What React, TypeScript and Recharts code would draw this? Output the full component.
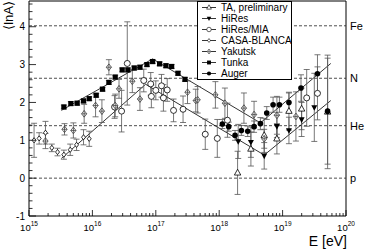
import React from 'react';
import { ScatterChart, Scatter, XAxis, YAxis, ErrorBar, ReferenceLine, ReferenceArea, Legend } from 'recharts';

// energies are log10(E / eV), y values are <lnA>, errors symmetric
const taLogE = [18.29, 18.5, 18.71, 18.91, 19.1, 19.3, 19.71];
const taLnA = [0.14, 0.77, 1.13, 1.04, 1.77, 1.83, 1.75];
const taErr = [0.57, 0.45, 0.45, 0.4, 0.5, 0.55, 1.5];

const hiresLogE = [18.3, 18.5, 18.71, 18.91, 19.1, 19.3, 19.5];
const hiresLnA = [0.97, 0.95, 0.59, 1.37, 1.26, 1.55, 1.87];
const hiresErr = [0.45, 0.4, 0.35, 0.3, 0.35, 0.45, 0.9];

const miaLogE = [16.35, 16.46, 16.55, 16.81, 16.92, 16.93, 17.0, 17.09, 17.12, 17.18, 17.28, 17.43, 17.78, 17.97, 18.13, 19.38, 19.55];
const miaLnA = [1.88, 1.77, 3.03, 2.58, 2.49, 2.16, 2.32, 2.44, 2.12, 2.33, 1.79, 1.82, 1.16, 1.05, 1.53, 2.12, 2.24];
const miaErr = [0.3, 0.55, 1.1, 0.3, 0.3, 0.3, 0.25, 0.3, 0.35, 0.3, 0.3, 0.35, 0.4, 0.5, 0.45, 0.75, 0.7];

const casaLogE = [15.08, 15.16, 15.26, 15.36, 15.45, 15.55, 15.65, 15.75, 15.86, 15.95];
const casaLnA = [1.0, 1.05, 1.2, 0.8, 0.69, 0.62, 0.75, 0.88, 1.08, 1.04];
const casaErr = [0.45, 0.15, 0.3, 0.1, 0.1, 0.12, 0.15, 0.15, 0.2, 0.2];

const yakLogE = [15.26, 15.56, 15.7, 15.87, 16.05, 16.15, 16.26, 16.36, 16.42, 16.63, 16.75, 17.5, 17.63, 17.66, 17.94, 18.09, 18.39, 18.55, 18.71, 18.91, 19.21];
const yakLnA = [0.98, 1.29, 1.26, 1.7, 1.92, 1.77, 2.93, 1.92, 2.36, 2.56, 2.09, 2.27, 2.05, 2.07, 2.2, 1.98, 1.85, 1.68, 1.04, 1.66, 1.63];
const yakErr = [0.2, 0.15, 0.2, 0.25, 0.3, 0.3, 0.2, 0.3, 0.25, 0.3, 0.3, 0.3, 0.3, 0.35, 0.35, 0.4, 0.4, 0.35, 0.25, 0.5, 0.65];

const tunkaLogE = [15.55, 15.66, 15.76, 15.86, 15.95, 16.06, 16.16, 16.26, 16.36, 16.47, 16.56, 16.66, 16.75, 16.86, 16.95, 17.06, 17.16, 17.25, 17.35, 17.46];
const tunkaLnA = [1.88, 1.97, 1.98, 2.04, 2.1, 2.19, 2.35, 2.53, 2.67, 2.86, 2.86, 2.91, 2.93, 3.0, 3.08, 3.02, 2.97, 2.95, 2.77, 2.61];
const tunkaErr = [0.05, 0.05, 0.05, 0.05, 0.05, 0.05, 0.05, 0.05, 0.05, 0.05, 0.05, 0.05, 0.05, 0.05, 0.05, 0.05, 0.05, 0.05, 0.05, 0.05];

const augerLogE = [18.05, 18.15, 18.25, 18.35, 18.45, 18.55, 18.65, 18.75, 18.85, 18.95, 19.1, 19.29, 19.55, 19.71];
const augerLnA = [1.43, 1.36, 1.13, 1.26, 1.24, 1.36, 1.44, 1.72, 1.94, 1.94, 2.0, 2.38, 2.76, 1.77];
const augerErr = [0.12, 0.12, 0.13, 0.13, 0.14, 0.15, 0.16, 0.17, 0.2, 0.2, 0.25, 0.35, 0.5, 1.4];

const upperFitLogE = [15.51, 16.95, 18.65, 19.76];
const upperFitLnA = [1.79, 3.15, 1.46, 3.03];
const lowerFitLogE = [15.51, 16.84, 18.71, 19.76];
const lowerFitLnA = [0.52, 2.48, 0.61, 2.05];

const massNames = ['p', 'He', 'N', 'Fe'];
const massLnA = [0, 1.386, 2.639, 4.025];

const decades = [15, 16, 17, 18, 19, 20];

const font = '"Liberation Sans", Arial, Helvetica, sans-serif';

const xTicks = decades.flatMap(d => (d === 20 ? [d] : [d, 2, 3, 4, 5, 6, 7, 8, 9].map((k, i) => (i === 0 ? d : d + Math.log10(k)))));
const yTicks = Array.from({ length: 29 }, (_, i) => Math.round((-1 + i * 0.2) * 10) / 10);

const isMajor = (v: number) => Math.abs(v - Math.round(v)) < 1e-6;

const toPts = (xs: number[], ys: number[], es: number[]) => xs.map((x, i) => ({ x, y: ys[i], err: es[i] }));

function Mark({ kind, cx, cy }: { kind: string; cx: number; cy: number }) {
  switch (kind) {
    case 'triUp':
      return <polygon points={`${cx},${cy - 3.6} ${cx - 3.2},${cy + 2.2} ${cx + 3.2},${cy + 2.2}`} fill="#fff" stroke="#000" strokeWidth={0.8} />;
    case 'triDown':
      return <polygon points={`${cx},${cy + 3.4} ${cx - 3},${cy - 2.2} ${cx + 3},${cy - 2.2}`} fill="#000" />;
    case 'circle':
      return <circle cx={cx} cy={cy} r={3} fill="#fff" stroke="#000" strokeWidth={0.8} />;
    case 'diamond':
      return <polygon points={`${cx},${cy - 2.6} ${cx + 2},${cy} ${cx},${cy + 2.6} ${cx - 2},${cy}`} fill="#fff" stroke="#000" strokeWidth={0.8} />;
    case 'diamondCross':
      return (
        <g stroke="#444" strokeWidth={0.8}>
          <polygon points={`${cx},${cy - 3.3} ${cx + 2.6},${cy} ${cx},${cy + 3.3} ${cx - 2.6},${cy}`} fill="#fff" />
          <line x1={cx - 2.6} x2={cx + 2.6} y1={cy} y2={cy} />
          <line x1={cx} x2={cx} y1={cy - 3.3} y2={cy + 3.3} />
        </g>
      );
    case 'square':
      return <rect x={cx - 2.6} y={cy - 2.6} width={5.2} height={5.2} fill="#000" />;
    default:
      return <circle cx={cx} cy={cy} r={2.8} fill="#000" />;
  }
}

const series = [
  { name: 'TA, preliminary', kind: 'triUp', data: toPts(taLogE, taLnA, taErr) },
  { name: 'HiRes', kind: 'triDown', data: toPts(hiresLogE, hiresLnA, hiresErr) },
  { name: 'HiRes/MIA', kind: 'circle', data: toPts(miaLogE, miaLnA, miaErr) },
  { name: 'CASA-BLANCA', kind: 'diamond', data: toPts(casaLogE, casaLnA, casaErr) },
  { name: 'Yakutsk', kind: 'diamondCross', data: toPts(yakLogE, yakLnA, yakErr) },
  { name: 'Tunka', kind: 'square', data: toPts(tunkaLogE, tunkaLnA, tunkaErr) },
  { name: 'Auger', kind: 'dot', data: toPts(augerLogE, augerLnA, augerErr) },
];

const segments = (xs: number[], ys: number[]) =>
  xs.slice(1).map((x, i) => [{ x: xs[i], y: ys[i] }, { x, y: ys[i + 1] }]);

const XTick = ({ x, y, payload }: any) => {
  const v = payload.value;
  const major = isMajor(v);
  return (
    <g>
      <line x1={x} x2={x} y1={y} y2={y - (major ? 6 : 3)} stroke="#000" strokeWidth={0.8} />
      {major && (
        <text x={x} y={y + 15} textAnchor="middle" fontFamily={font} fontSize={9.5} fill="#000">
          10<tspan dy={-5} fontSize={6.5}>{Math.round(v)}</tspan>
        </text>
      )}
    </g>
  );
};

const YTick = ({ x, y, payload }: any) => {
  const v = payload.value;
  const major = isMajor(v);
  return (
    <g>
      <line x1={x} x2={x + (major ? 7 : 3.5)} y1={y} y2={y} stroke="#000" strokeWidth={0.8} />
      {major && (
        <text x={x - 4} y={y + 3.5} textAnchor="end" fontFamily={font} fontSize={10} fill="#000">
          {Math.round(v)}
        </text>
      )}
    </g>
  );
};

const LegendBox = () => (
  <div style={{ width: 93, height: 77, border: '1px solid #000', background: '#fff', fontFamily: font, fontSize: 10, color: '#000' }}>
    {series.map(s => (
      <div key={s.name} style={{ display: 'flex', alignItems: 'center', height: 11 }}>
        <svg width={20} height={11} style={{ marginLeft: 3, flex: 'none' }}>
          <line x1={1} x2={15} y1={5.5} y2={5.5} stroke="#000" strokeWidth={0.8} />
          <g transform="translate(8,5.5) scale(0.75) translate(-8,-5.5)">
            <Mark kind={s.kind} cx={8} cy={5.5} />
          </g>
        </svg>
        <span style={{ whiteSpace: 'nowrap', lineHeight: '11px' }}>{s.name}</span>
      </div>
    ))}
  </div>
);

export default function App() {
  return (
    <div style={{ position: 'absolute', left: 0, top: 0, width: 366, height: 251, background: '#fff' }}>
      <ScatterChart width={366} height={251} margin={{ top: 1, right: 20, bottom: 0, left: 0 }}>
        <XAxis
          dataKey="x"
          type="number"
          domain={[15, 20]}
          ticks={xTicks}
          interval={0}
          allowDataOverflow
          height={35}
          axisLine={false}
          tickLine={false}
          tickSize={0}
          tickMargin={0}
          tick={<XTick />}
        />
        <YAxis
          dataKey="y"
          type="number"
          domain={[-1, 4.68]}
          ticks={yTicks}
          interval={0}
          allowDataOverflow
          width={29}
          axisLine={false}
          tickLine={false}
          tickSize={0}
          tickMargin={0}
          tick={<YTick />}
        />
        {massLnA.map((v, i) => (
          <ReferenceLine
            key={massNames[i]}
            y={v}
            stroke="#222"
            strokeWidth={0.8}
            strokeDasharray="3 2"
            label={{ value: massNames[i], position: 'right', fill: '#000', fontSize: 11, fontFamily: font, offset: 4 }}
          />
        ))}
        {[...segments(upperFitLogE, upperFitLnA), ...segments(lowerFitLogE, lowerFitLnA)].map((seg, i) => (
          <ReferenceLine key={'fit' + i} segment={seg} stroke="#000" strokeWidth={0.8} />
        ))}
        {series.map(s => (
          <Scatter
            key={s.name}
            name={s.name}
            data={s.data}
            fill="#000"
            isAnimationActive={false}
            shape={(p: any) => <Mark kind={s.kind} cx={p.cx} cy={p.cy} />}
          >
            <ErrorBar dataKey="err" direction="y" width={3} stroke="#555" strokeWidth={0.8} isAnimationActive={false} />
          </Scatter>
        ))}
        <ReferenceArea x1={15} x2={20} y1={-1} y2={4.68} fill="none" fillOpacity={0} stroke="#000" strokeWidth={1} />
        <Legend
          layout="vertical"
          align="center"
          verticalAlign="middle"
          content={<LegendBox />}
          wrapperStyle={{ left: 197, top: 1, width: 'auto', height: 'auto' }}
        />
      </ScatterChart>
      <svg width={366} height={251} style={{ position: 'absolute', left: 0, top: 0, pointerEvents: 'none' }}>
        <text transform="translate(13,1) rotate(-90)" textAnchor="end" fontFamily={font} fontSize={13} fill="#000">
          ⟨lnA⟩
        </text>
        <text x={347} y={246} textAnchor="end" fontFamily={font} fontSize={14} fill="#000">
          E [eV]
        </text>
      </svg>
    </div>
  );
}
